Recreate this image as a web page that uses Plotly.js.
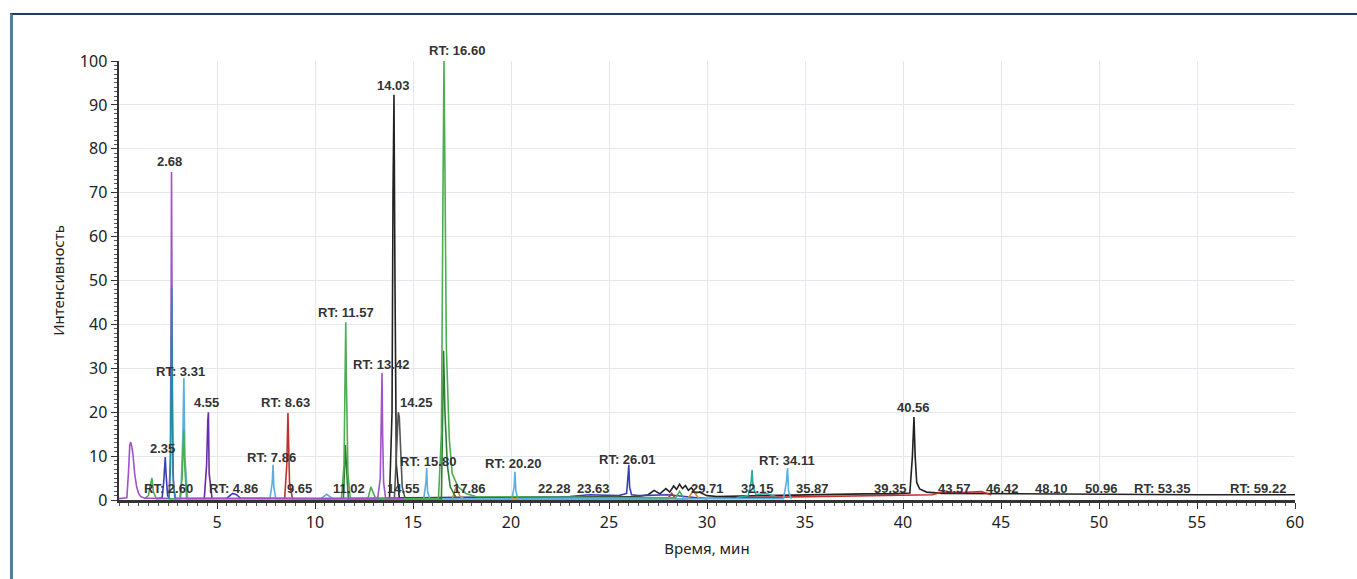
<!DOCTYPE html>
<html>
<head>
<meta charset="utf-8">
<script src="https://cdn.plot.ly/plotly-3.0.1.min.js"></script>
<style>
  html, body { margin:0; padding:0; background:#fff; overflow:hidden; }
  #wrap { position:relative; width:1357px; height:579px; }
  #chart { position:absolute; left:0; top:0; width:1357px; height:579px; }
  #frame { position:absolute; left:10px; top:13px; width:1360px; height:600px;
           border-top:2px solid #1f3b5a; border-left:3px solid #5b7d93; pointer-events:none; }
</style>
</head>
<body>
<div id="wrap"><div id="chart"></div><div id="frame"></div></div>
<script>
// ---- Data (time, min / relative intensity, %) ----
const timePurple = [0.0, 0.4, 0.48, 0.55, 0.6, 0.66, 0.72, 0.8, 0.9, 1.0, 1.1, 1.3, 2.55, 2.62, 2.66, 2.68, 2.71, 2.75, 2.85, 13.2, 13.33, 13.4, 13.42, 13.45, 13.5, 13.6, 14.5];
const intPurple  = [0.3, 0.5, 6, 12.5, 13.2, 12, 10, 6, 3, 1.5, 0.8, 0.4, 0.4, 10, 45, 74.7, 40, 6, 0.4, 0.4, 5, 22, 28.9, 15, 4, 0.5, 0.3];

const timeTeal = [2.55, 2.63, 2.67, 2.69, 2.72, 2.78, 2.9];
const intTeal  = [0.2, 8, 30, 48.3, 20, 3, 0.2];

const timeBlue = [1.9, 2.2, 2.28, 2.33, 2.36, 2.4, 2.48, 2.6, 5.5, 5.8, 6.0, 6.2, 10.5, 23.0, 24, 25.5, 25.9, 25.98, 26.01, 26.05, 26.15, 26.5, 28, 30];
const intBlue  = [0.3, 0.5, 4, 9, 9.8, 6, 1, 0.3, 0.4, 1.5, 1.2, 0.4, 0.3, 0.8, 1.2, 1, 1.5, 6, 8, 3, 1.2, 1, 1.2, 0.3];

const timeGreen = [1.3, 1.5, 1.6, 1.68, 1.75, 1.9, 3.1, 3.22, 3.28, 3.31, 3.35, 3.45, 11.35, 11.48, 11.54, 11.57, 11.6, 11.68, 11.8, 12.7, 12.85, 12.95, 13.1, 16.3, 16.45, 16.53, 16.58, 16.63, 16.7, 16.85, 17.0, 17.3, 17.7, 18.2, 28.4, 28.6, 28.8];
const intGreen  = [0.3, 1, 3.5, 5, 2, 0.3, 0.3, 5, 13, 16, 8, 0.3, 0.3, 8, 30, 40.5, 28, 6, 0.4, 0.3, 3, 2, 0.3, 0.3, 15, 70, 100, 75, 35, 14, 6, 3, 1.5, 0.8, 0.5, 2, 0.5];

const timeDarkGreen = [11.45, 11.55, 11.6, 11.7, 16.45, 16.56, 16.63, 16.75, 16.9, 17.2];
const intDarkGreen  = [0.3, 12.5, 8, 0.3, 0.3, 34, 20, 8, 3, 0.5];

const timeLightBlue = [3.15, 3.26, 3.31, 3.36, 3.5, 7.7, 7.82, 7.86, 7.9, 8.0, 10.3, 10.6, 10.9, 15.55, 15.66, 15.7, 15.74, 15.85, 20.05, 20.16, 20.2, 20.25, 20.35, 33.9, 34.05, 34.11, 34.16, 34.3];
const intLightBlue  = [0.3, 15, 27.8, 10, 0.3, 0.3, 4, 8, 3, 0.3, 0.3, 1.3, 0.3, 0.3, 4, 7.3, 2, 0.3, 0.3, 3, 6.4, 2, 0.3, 0.3, 4, 7.3, 2, 0.3];

const timeIndigo = [4.35, 4.47, 4.53, 4.56, 4.6, 4.75];
const intIndigo  = [0.3, 8, 18, 20, 6, 0.3];

const timeRed = [8.45, 8.56, 8.62, 8.65, 8.7, 8.85, 28.0, 28.2, 28.4, 41.5, 42, 43, 44, 44.5];
const intRed  = [0.3, 8, 19.8, 15, 4, 0.3, 0.3, 1.5, 0.3, 1.2, 1.8, 1.7, 1.9, 1.2];

const timeBlack = [13.8, 13.93, 13.98, 14.03, 14.08, 14.15, 14.3, 26.5, 27, 27.3, 27.6, 27.9, 28.1, 28.3, 28.45, 28.6, 28.75, 28.9, 29.05, 29.2, 29.4, 29.6, 30, 30.5, 33, 36, 38, 39.5, 40.35, 40.48, 40.56, 40.62, 40.7, 40.85, 41.2, 42, 45, 50, 55, 60];
const intBlack  = [0.3, 20, 70, 92.3, 50, 8, 0.5, 0.8, 1.2, 2.2, 1.4, 2.6, 1.8, 3.2, 2.4, 3.6, 2.6, 3.3, 2.2, 2.8, 1.6, 1.8, 1, 0.8, 1, 1.3, 1.4, 1.4, 1.6, 10, 18.9, 10, 4, 2.5, 1.8, 1.5, 1.4, 1.3, 1.2, 1.2];

const timeGray = [14.05, 14.15, 14.22, 14.25, 14.3, 14.35, 14.45, 14.6];
const intGray  = [0.3, 10, 19, 20, 19, 12, 3, 0.3];

const timeOrange = [17.0, 17.2, 17.4, 17.6, 29.0, 29.3, 29.6];
const intOrange  = [0.3, 3, 0.8, 0.3, 0.3, 2, 0.3];

const timeCyan = [31.5, 32.1, 32.25, 32.3, 32.35, 32.5, 33, 33.5];
const intCyan  = [0.5, 1, 4, 6.8, 3, 1.2, 1.5, 0.8];

// peak labels
const labelTexts  = ["2.68", "14.03", "RT: 16.60", "RT: 11.57", "RT: 13.42", "14.25", "RT: 3.31", "4.55", "RT: 8.63", "2.35", "RT: 7.86", "RT: 15.80", "RT: 20.20", "RT: 26.01", "RT: 34.11", "40.56",
                     "RT: 2.60", "RT: 4.86", "9.65", "11.02", "14.55", "17.86", "22.28", "23.63", "29.71", "32.15", "35.87", "39.35", "43.57", "46.42", "48.10", "50.96", "RT: 53.35", "RT: 59.22"];
const labelTimes  = [2.6, 13.98, 17.24, 11.58, 13.37, 15.2, 3.16, 4.44, 8.52, 2.24, 7.76, 15.77, 20.1, 25.92, 34.08, 40.56,
                     2.5, 5.82, 9.23, 11.73, 14.54, 17.86, 22.24, 24.23, 30.05, 32.6, 35.4, 39.34, 42.65, 45.1, 47.6, 50.15, 53.2, 58.1];
const labelLevels = [77.0, 94.5, 102.5, 42.6, 30.8, 22.3, 29.2, 22.3, 22.1, 11.8, 9.6, 8.7, 8.4, 9.3, 8.9, 21,
                     2.7, 2.7, 2.7, 2.7, 2.7, 2.7, 2.7, 2.7, 2.7, 2.7, 2.7, 2.7, 2.7, 2.7, 2.7, 2.7, 2.7, 2.7];

const xTickVals = [5, 10, 15, 20, 25, 30, 35, 40, 45, 50, 55, 60];
const yTickVals = [0, 10, 20, 30, 40, 50, 60, 70, 80, 90, 100];

const series = [
  [timeBlack, intBlack, '#222222'],
  [timeBlue, intBlue, '#3a3fb8'],
  [timeRed, intRed, '#c0302c'],
  [timeOrange, intOrange, '#e08a22'],
  [timeCyan, intCyan, '#26aaa6'],
  [timeLightBlue, intLightBlue, '#5aaee0'],
  [timeIndigo, intIndigo, '#6a2ca6'],
  [timeGray, intGray, '#555555'],
  [timeDarkGreen, intDarkGreen, '#2e7d32'],
  [timeGreen, intGreen, '#4cae50'],
  [timePurple, intPurple, '#a052c8'],
  [timeTeal, intTeal, '#1d8fa3']
];

const traces = series.map(s => ({
  type: 'scatter', mode: 'lines', x: s[0], y: s[1],
  line: {color: s[2], width: 1.6}, hoverinfo: 'x+y'
}));

const annotations = labelTexts.map((t, i) => {
  const lv = labelLevels[i];
  return {
    x: labelTimes[i], y: Math.min(lv, 100), yshift: lv > 100 ? (lv - 100) * 4.39 : 0,
    xref: 'x', yref: 'y', text: t, showarrow: false,
    xanchor: 'center', yanchor: 'middle',
    font: {family: 'Liberation Sans, Arial, sans-serif', size: 13, color: '#333333', weight: 'bold'}
  };
});

const layout = {
  width: 1357, height: 579,
  margin: {l: 119, r: 62, t: 61, b: 79},
  paper_bgcolor: '#ffffff', plot_bgcolor: '#ffffff',
  showlegend: false,
  xaxis: {
    range: [0, 60], tickvals: xTickVals, ticktext: xTickVals.map(String),
    showgrid: true, gridcolor: '#e4e8ed', gridwidth: 1,
    showline: true, linecolor: '#333333', linewidth: 2.5,
    ticks: 'outside', ticklen: 6, tickcolor: '#333333', tickwidth: 1,
    minor: {dtick: 0.5, ticks: 'outside', ticklen: 3, tickcolor: '#555', showgrid: false},
    zeroline: false,
    tickfont: {family: 'Noto Sans, sans-serif', size: 16, color: '#222'},
    title: {text: 'Время, мин', font: {family: 'Noto Sans, sans-serif', size: 15, color: '#222'}, standoff: 12}
  },
  yaxis: {
    range: [0, 100], tickvals: yTickVals, ticktext: yTickVals.map(String),
    showgrid: true, gridcolor: '#e4e8ed', gridwidth: 1,
    showline: true, linecolor: '#333333', linewidth: 2.5,
    ticks: 'outside', ticklen: 6, tickcolor: '#333333', tickwidth: 1,
    minor: {dtick: 1, ticks: 'outside', ticklen: 3, tickcolor: '#555', showgrid: false},
    zeroline: false,
    tickfont: {family: 'Noto Sans, sans-serif', size: 16, color: '#222'},
    title: {text: 'Интенсивность', font: {family: 'Noto Sans, sans-serif', size: 15, color: '#222'}, standoff: 12}
  },
  annotations: annotations
};

Plotly.newPlot('chart', traces, layout, {displayModeBar: false, staticPlot: true});
</script>
</body>
</html>
